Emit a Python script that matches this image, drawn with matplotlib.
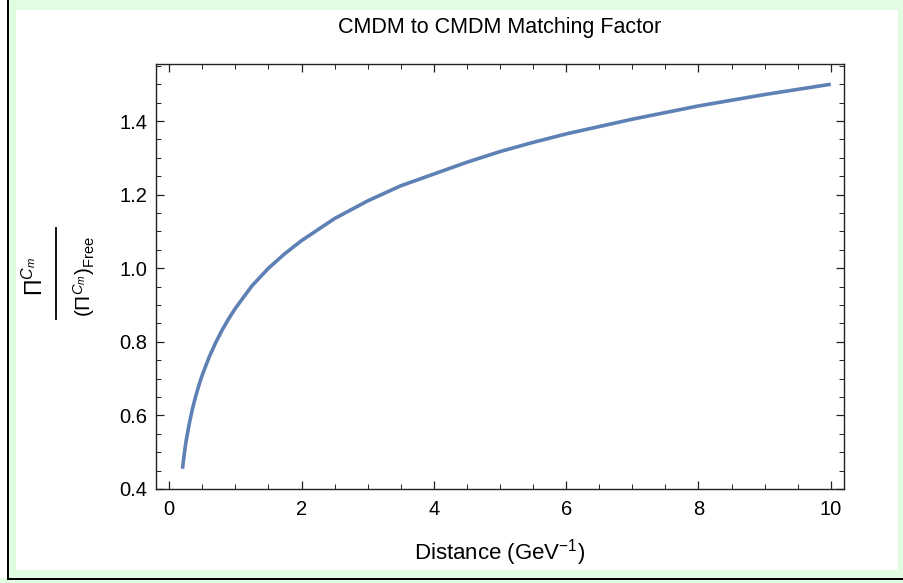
import matplotlib
matplotlib.use('Agg')
import matplotlib.pyplot as plt
from matplotlib.patches import Rectangle
from matplotlib.lines import Line2D
from matplotlib.ticker import MultipleLocator, FormatStrFormatter

plt.rcParams['font.family'] = ['Liberation Sans', 'DejaVu Sans']
plt.rcParams['mathtext.fontset'] = 'custom'
plt.rcParams['mathtext.rm'] = 'Liberation Sans'
plt.rcParams['mathtext.it'] = 'Liberation Sans:italic'
plt.rcParams['mathtext.bf'] = 'Liberation Sans:bold'

# matching factor vs distance
distance = [0.2, 0.225, 0.25, 0.3, 0.35, 0.4, 0.45, 0.5, 0.6, 0.7, 0.8, 0.9,
            1.0, 1.25, 1.5, 1.75, 2.0, 2.5, 3.0, 3.5, 4.0, 4.5, 5.0, 5.5,
            6.0, 7.0, 8.0, 9.0, 10.0]
factor = [0.455, 0.492, 0.525, 0.575, 0.617, 0.652, 0.683, 0.71, 0.757,
          0.797, 0.832, 0.863, 0.891, 0.952, 1.0, 1.04, 1.075, 1.135, 1.183,
          1.224, 1.256, 1.288, 1.317, 1.342, 1.365, 1.405, 1.441, 1.472,
          1.500]

W, H = 904, 583
fig = plt.figure(figsize=(W / 100, H / 100), dpi=100)
fig.patch.set_facecolor('#e2fce2')

def px(x0, y0, x1, y1):
    # pixel box (from top-left) -> figure fraction rect
    return (x0 / W, 1 - y1 / H), (x1 - x0) / W, (y1 - y0) / H

for box, col in [((0, 0, 8, 578), 'white'), ((16, 10, 898, 570), 'white'),
                 ((7, 0, 9.5, 580), 'black'), ((7, 577.5, 904, 580), 'black')]:
    xy, w, h = px(*box)
    fig.add_artist(Rectangle(xy, w, h, transform=fig.transFigure,
                             facecolor=col, edgecolor='none', zorder=0))

ax = fig.add_axes([156 / W, 1 - 489 / H, (844 - 156) / W, (489 - 64) / H])
ax.plot(distance, factor, color='#5e81b5', lw=2.6, solid_capstyle='butt')

ax.set_xlim(-0.2, 10.2)
ax.set_ylim(0.4, 1.555)
ax.xaxis.set_major_locator(MultipleLocator(2))
ax.xaxis.set_minor_locator(MultipleLocator(0.5))
ax.yaxis.set_major_locator(MultipleLocator(0.2))
ax.yaxis.set_minor_locator(MultipleLocator(0.05))
ax.yaxis.set_major_formatter(FormatStrFormatter('%.1f'))
ax.tick_params(which='both', direction='in', top=True, right=True,
               labelsize=14.5, color='#222222')
ax.tick_params(axis='x', which='major', length=6, width=0.9, pad=8)
ax.tick_params(axis='y', which='major', length=6, width=0.9, pad=6)
ax.tick_params(which='minor', length=3.5, width=0.7)
for s in ax.spines.values():
    s.set_linewidth(1.0)
    s.set_color('#222222')

fig.text(500 / W, 1 - 27 / H, 'CMDM to CMDM Matching Factor', fontsize=15.5,
         ha='center', va='center')
fig.text(500 / W, 1 - 553 / H, r'Distance (GeV$^{-1}$)', fontsize=16,
         ha='center', va='center')

# stacked fraction for the y label
fig.text(35 / W, 1 - 276 / H, r'$\Pi^{C_m}$', fontsize=16.5, rotation=90,
         ha='center', va='center')
fig.add_artist(Line2D([56 / W, 56 / W], [1 - 228 / H, 1 - 319 / H],
                      transform=fig.transFigure, color='black', lw=1.3))
fig.text(84 / W, 1 - 277 / H, r'$(\Pi^{C_m})_{\mathrm{Free}}$', fontsize=15,
         rotation=90, ha='center', va='center')

fig.savefig('out.png', dpi=100)
